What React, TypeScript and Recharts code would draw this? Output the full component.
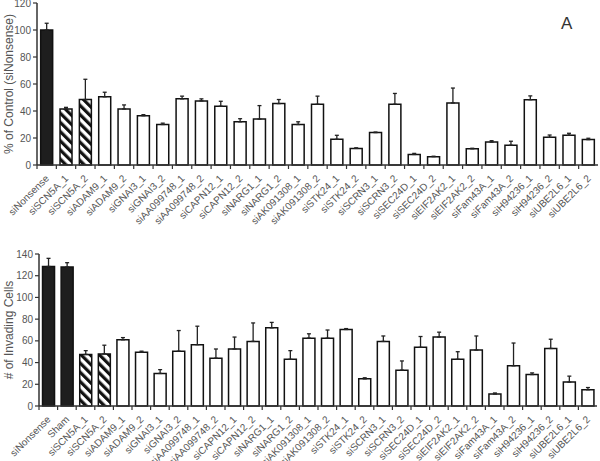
import React from 'react'
import { BarChart, Bar, XAxis, YAxis, Cell, ErrorBar } from 'recharts'

const labelsA = [
  'siNonsense', 'siSCN5A_1', 'siSCN5A_2', 'siADAM9_1', 'siADAM9_2', 'siGNAI3_1', 'siGNAI3_2',
  'siAA099748_1', 'siAA099748_2', 'siCAPN12_1', 'siCAPN12_2', 'siNARG1_1', 'siNARG1_2',
  'siAK091308_1', 'siAK091308_2', 'siSTK24_1', 'siSTK24_2', 'siSCRN3_1', 'siSCRN3_2',
  'siSEC24D_1', 'siSEC24D_2', 'siEIF2AK2_1', 'siEIF2AK2_2', 'siFam43A_1', 'siFam43A_2',
  'siH94236_1', 'siH94236_2', 'siUBE2L6_1', 'siUBE2L6_2',
]
const valuesA = [
  100, 41.5, 48.5, 50.5, 41.5, 36.5, 30, 49, 47.5, 43.5, 32, 34, 45.5, 30, 45, 19, 12.3, 24, 45,
  7.8, 6.2, 46, 12, 17, 14.6, 48.4, 20.5, 22, 18.8,
]
const errorsA = [
  5, 1.2, 15, 3.4, 3, 0.8, 1, 2, 1.5, 3.7, 2.3, 10, 3, 2, 6, 3, 0.4, 0.4, 8, 0.8, 0.3, 11, 0.4,
  1, 3, 2.8, 1.7, 1.5, 1,
]
const ticksA = [0, 20, 40, 60, 80, 100, 120]

const labelsB = [
  'siNonsense', 'Sham', 'siSCN5A_1', 'siSCN5A_2', 'siADAM9_1', 'siADAM9_2', 'siGNAI3_1', 'siGNAI3_2',
  'siAA099748_1', 'siAA099748_2', 'siCAPN12_1', 'siCAPN12_2', 'siNARG1_1', 'siNARG1_2',
  'siAK091308_1', 'siAK091308_2', 'siSTK24_1', 'siSTK24_2', 'siSCRN3_1', 'siSCRN3_2',
  'siSEC24D_1', 'siSEC24D_2', 'siEIF2AK2_1', 'siEIF2AK2_2', 'siFam43A_1', 'siFam43A_2',
  'siH94236_1', 'siH94236_2', 'siUBE2L6_1', 'siUBE2L6_2',
]
const valuesB = [
  128.5, 128, 47.5, 48, 61, 49.5, 30, 50.5, 56.5, 44, 52.5, 59.5, 72, 43, 62.5, 62.5, 70.5, 25,
  59.5, 33, 54, 63.5, 43, 51.5, 11, 37, 29, 53, 22, 15,
]
const errorsB = [
  7.5, 4, 3.5, 8, 2, 1, 3.5, 19, 17, 8.5, 11, 17, 5, 8, 4, 7.5, 0.8, 1, 5, 8.5, 10, 4.5, 7, 13,
  1, 21, 1.5, 8.5, 5.5, 2,
]
const ticksB = [0, 20, 40, 60, 80, 100, 120, 140]

const FONT = '"Liberation Sans", Arial, sans-serif'
const AXIS = '#333'

function barFill(name: string) {
  if (name === 'siNonsense' || name === 'Sham') return '#1e1e1e'
  if (name.startsWith('siSCN5A')) return 'url(#hatch)'
  return '#fff'
}

// category labels at -45deg, with the small tick marks sitting between bars
function makeTick(band: number) {
  return (props: any) => {
    const { x, y, payload } = props
    return (
      <g>
        <line x1={x - band / 2} y1={y - 8} x2={x - band / 2} y2={y - 4} stroke={AXIS} strokeWidth={1.2} />
        <text
          x={x + 3}
          y={y + 6}
          textAnchor="end"
          fontSize={10}
          fill="#555"
          fontFamily={FONT}
          transform={`rotate(-45, ${x + 3}, ${y + 6})`}
        >
          {payload.value}
        </text>
      </g>
    )
  }
}

function Panel({ labels, values, errors, ticks, width, height, margin, yWidth, xHeight, yLabel, letter, letterPos }: any) {
  const data = labels.map((name: string, i: number) => ({
    name,
    value: values[i],
    err: [0, errors[i]],
  }))
  const band = (width - margin.left - margin.right - yWidth) / labels.length
  return (
    <div style={{ position: 'relative', width, height }}>
      <BarChart width={width} height={height} data={data} margin={margin} barCategoryGap="19%">
        <XAxis
          dataKey="name"
          interval={0}
          height={xHeight}
          tick={makeTick(band)}
          tickLine={false}
          axisLine={{ stroke: AXIS, strokeWidth: 1.5 }}
        />
        <YAxis
          width={yWidth}
          domain={[0, ticks[ticks.length - 1]]}
          ticks={ticks}
          interval={0}
          tickSize={4}
          tick={{ fontSize: 10, fill: '#555', fontFamily: FONT }}
          tickLine={{ stroke: AXIS, strokeWidth: 1.2 }}
          axisLine={{ stroke: AXIS, strokeWidth: 1.5 }}
          label={{
            value: yLabel,
            angle: -90,
            position: 'insideLeft',
            offset: 9,
            style: { textAnchor: 'middle', fontSize: 12, fill: '#555', fontFamily: FONT },
          }}
        />
        <Bar dataKey="value" stroke="#111" strokeWidth={1.5} isAnimationActive={false}>
          {data.map((d: any) => (
            <Cell key={d.name} fill={barFill(d.name)} />
          ))}
          <ErrorBar dataKey="err" width={2} stroke="#222" strokeWidth={1.3} direction="y" />
        </Bar>
      </BarChart>
      <div
        style={{
          position: 'absolute',
          left: letterPos[0],
          top: letterPos[1],
          fontFamily: FONT,
          fontSize: 17,
          color: '#333',
        }}
      >
        {letter}
      </div>
    </div>
  )
}

export default function App() {
  return (
    <div style={{ position: 'absolute', left: 0, top: 0, width: 600, height: 461, background: '#fff' }}>
      <svg width={0} height={0} style={{ position: 'absolute' }}>
        <defs>
          <pattern id="hatch" width={6.5} height={6.5} patternUnits="userSpaceOnUse" patternTransform="rotate(-45)">
            <rect width={6.5} height={6.5} fill="#fff" />
            <rect width={3.2} height={6.5} fill="#111" />
          </pattern>
        </defs>
      </svg>
      <Panel
        labels={labelsA}
        values={valuesA}
        errors={errorsA}
        ticks={ticksA}
        width={600}
        height={230}
        margin={{ top: 3, right: 2, bottom: 0, left: 0 }}
        yWidth={37}
        xHeight={65}
        yLabel="% of Control (siNonsense)"
        letter="A"
        letterPos={[561, 14]}
      />
      <Panel
        labels={labelsB}
        values={valuesB}
        errors={errorsB}
        ticks={ticksB}
        width={600}
        height={231}
        margin={{ top: 24, right: 3, bottom: 0, left: 0 }}
        yWidth={39}
        xHeight={55}
        yLabel="# of Invading Cells"
        letter="B"
        letterPos={[559, 259]}
      />
    </div>
  )
}
